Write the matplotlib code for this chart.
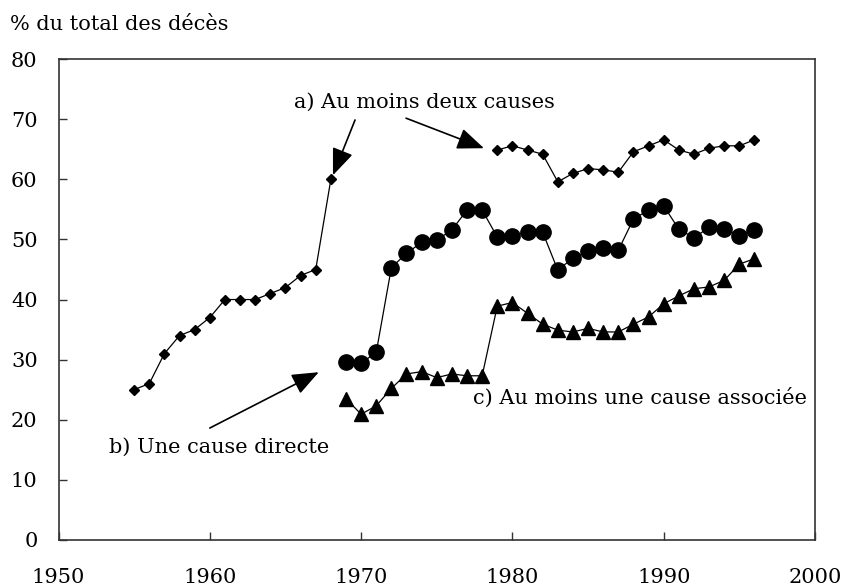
import matplotlib
matplotlib.use("Agg")
import matplotlib.pyplot as plt

plt.rcParams['font.family'] = ['DejaVu Serif']

# a) Au moins deux causes
years_a1 = [1955, 1956, 1957, 1958, 1959, 1960, 1961, 1962, 1963, 1964, 1965, 1966, 1967, 1968]
vals_a1 = [25.0, 26.0, 31.0, 34.0, 35.0, 37.0, 40.0, 40.0, 40.0, 41.0, 42.0, 44.0, 45.0, 60.0]
years_a2 = list(range(1979, 1997))
vals_a2 = [64.9, 65.6, 64.9, 64.2, 59.6, 61.0, 61.8, 61.6, 61.2, 64.6, 65.6, 66.6,
           64.9, 64.2, 65.2, 65.6, 65.6, 66.6]

# b) Une cause directe
years_b = list(range(1969, 1997))
vals_b = [29.6, 29.4, 31.2, 45.3, 47.7, 49.5, 49.9, 51.6, 54.9, 54.9,
          50.4, 50.6, 51.3, 51.2, 44.9, 46.9, 48.0, 48.6, 48.2, 53.4,
          54.9, 55.6, 51.7, 50.3, 52.0, 51.7, 50.6, 51.6]

# c) Au moins une cause associée
years_c = list(range(1969, 1997))
vals_c = [23.5, 20.9, 22.3, 25.2, 27.6, 28.0, 27.0, 27.6, 27.3, 27.3,
          38.9, 39.5, 37.7, 35.9, 34.9, 34.6, 35.2, 34.6, 34.6, 35.9,
          37.1, 39.3, 40.6, 41.8, 42.1, 43.2, 45.9, 46.8]

x_ticks = [1950, 1960, 1970, 1980, 1990, 2000]
y_ticks = [0, 10, 20, 30, 40, 50, 60, 70, 80]

fig = plt.figure(figsize=(8.43, 5.88), dpi=100)
ax = fig.add_axes([0.0694, 0.0821, 0.8974, 0.8170])

lw = 0.9
ax.plot(years_a1, vals_a1, color='black', lw=lw, marker='D', ms=4.6, zorder=3)
ax.plot(years_a2, vals_a2, color='black', lw=lw, marker='D', ms=4.6, zorder=3)
ax.plot(years_b, vals_b, color='black', lw=lw, marker='o', ms=11, zorder=3)
ax.plot(years_c, vals_c, color='black', lw=lw, marker='^', ms=10.5, zorder=3)

ax.set_xlim(1950, 2000)
ax.set_ylim(0, 80)
ax.set_xticks(x_ticks)
ax.set_yticks(y_ticks)
fs = 15
ax.tick_params(axis='both', direction='in', length=6, width=1, color='#333333',
               labelsize=fs)
ax.tick_params(axis='x', pad=20)
ax.tick_params(axis='y', pad=15)
for s in ax.spines.values():
    s.set_color('#333333')
    s.set_linewidth(1.2)

ax.text(1974.16, 72.9, 'a) Au moins deux causes', ha='center', va='center', fontsize=fs)
ax.text(1960.6, 15.4, 'b) Une cause directe', ha='center', va='center', fontsize=fs)
ax.text(1988.43, 23.6, 'c) Au moins une cause associée', ha='center', va='center', fontsize=fs)

arrow = dict(arrowstyle='-|>,head_length=0.55,head_width=0.22', color='black',
             lw=1.2, mutation_scale=30, shrinkA=0, shrinkB=0)
ax.annotate('', xy=(1968.14, 60.7), xytext=(1969.6, 69.9), arrowprops=arrow)
ax.annotate('', xy=(1978.12, 65.2), xytext=(1972.97, 70.2), arrowprops=arrow)
ax.annotate('', xy=(1967.2, 27.9), xytext=(1960.0, 18.6), arrowprops=arrow)

fig.text(10 / 843, 1 - 24 / 588, '% du total des décès', ha='left', va='center', fontsize=fs)

fig.savefig('out.png', dpi=100)
